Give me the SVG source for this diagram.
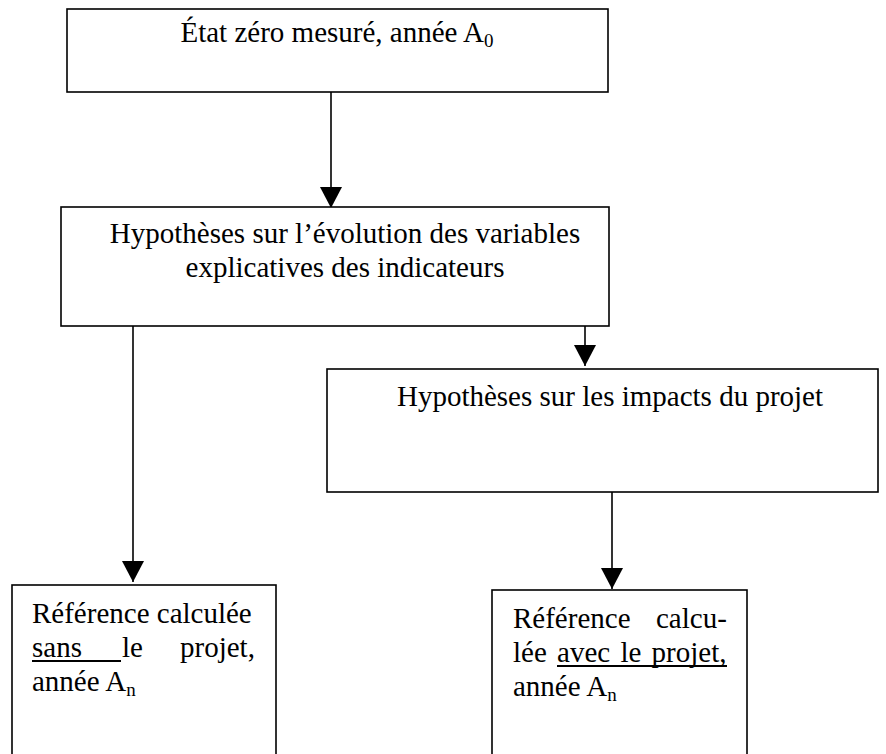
<svg xmlns="http://www.w3.org/2000/svg" width="886" height="754" viewBox="0 0 886 754">
<defs>
<style>
.box{fill:#fff;stroke:#000;stroke-width:1.6}
.t{font-family:"Liberation Serif","Times New Roman",serif;font-size:29px;fill:#000}
.c{text-anchor:middle}
.sub{font-size:19px}
.ln{stroke:#000;stroke-width:1.6;fill:none}
.ul{stroke:#000;stroke-width:1.8}
</style>
<marker id="ah" markerUnits="userSpaceOnUse" markerWidth="22" markerHeight="22" viewBox="0 0 22 22" refX="21" refY="11" orient="auto">
<path d="M0,0 L21,11 L0,22 Z" fill="#000"/>
</marker>
</defs>
<rect width="886" height="754" fill="#fff"/>
<g id="connectors">
<line class="ln" x1="331" y1="92" x2="331" y2="208" marker-end="url(#ah)"/>
<line class="ln" x1="585" y1="326" x2="585" y2="366" marker-end="url(#ah)"/>
<line class="ln" x1="133" y1="326" x2="133" y2="582" marker-end="url(#ah)"/>
<line class="ln" x1="612" y1="492" x2="612" y2="589" marker-end="url(#ah)"/>
</g>
<g id="n1">
<rect class="box" x="67" y="9" width="541" height="83"/>
<text class="t c" x="337" y="42">État zéro mesuré, année A<tspan class="sub" dy="5">0</tspan></text>
</g>
<g id="n2">
<rect class="box" x="61" y="207" width="548" height="119"/>
<text class="t c" x="345" y="243">Hypothèses sur l’évolution des variables</text>
<text class="t c" x="345" y="277">explicatives des indicateurs</text>
</g>
<g id="n3">
<rect class="box" x="327" y="369" width="551" height="123"/>
<text class="t c" x="610" y="406">Hypothèses sur les impacts du projet</text>
</g>
<g id="n4">
<rect class="box" x="12" y="585" width="264" height="180"/>
<text class="t" x="32" y="623">Référence calculée</text>
<text class="t" x="32" y="657">sans</text>
<text class="t" x="122" y="657">le</text>
<text class="t" x="180" y="657">projet,</text>
<line class="ul" x1="32" y1="661" x2="121" y2="661"/>
<text class="t" x="32" y="691">année A<tspan class="sub" dy="5">n</tspan></text>
</g>
<g id="n5">
<rect class="box" x="492" y="590" width="255" height="175"/>
<text class="t" x="513" y="628">Référence</text>
<text class="t" x="656" y="628">calcu-</text>
<text class="t" x="513" y="662" word-spacing="3">lée avec le projet,</text>
<line class="ul" x1="557" y1="666" x2="727" y2="666"/>
<text class="t" x="513" y="696">année A<tspan class="sub" dy="5">n</tspan></text>
</g>
</svg>
